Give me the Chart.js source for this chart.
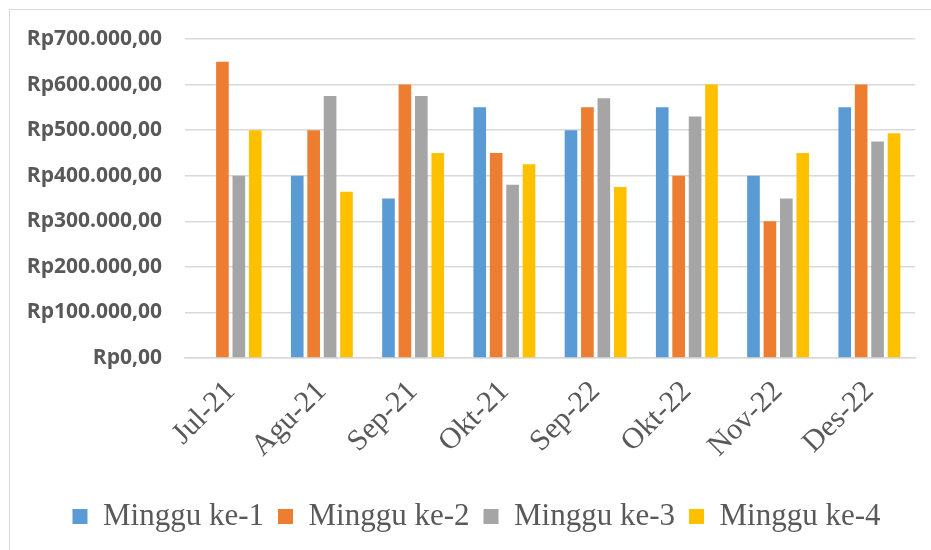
<!DOCTYPE html>
<html>
<head>
<meta charset="utf-8">
<script src="https://cdn.jsdelivr.net/npm/chart.js@4"></script>
<style>
  body { margin: 0; background: #fff; }
  .frame { position: absolute; left: 9px; top: 9px; width: 940px; height: 560px; border: 1px solid #d9d9d9; }
  canvas { position: absolute; left: 0; top: 0; }
</style>
</head>
<body>
<div class="frame"></div>
<canvas id="chart" width="931" height="550"></canvas>
<script>
const categories = ['Jul-21', 'Agu-21', 'Sep-21', 'Okt-21', 'Sep-22', 'Okt-22', 'Nov-22', 'Des-22'];
const minggu1 = [null, 400000, 350000, 550000, 500000, 550000, 400000, 550000];
const minggu2 = [650000, 500000, 600000, 450000, 550000, 400000, 300000, 600000];
const minggu3 = [400000, 575000, 575000, 380000, 570000, 530000, 350000, 475000];
const minggu4 = [500000, 365000, 450000, 425000, 375000, 600000, 450000, 493000];
const yTickLabels = ['Rp0,00', 'Rp100.000,00', 'Rp200.000,00', 'Rp300.000,00',
  'Rp400.000,00', 'Rp500.000,00', 'Rp600.000,00', 'Rp700.000,00'];

// nudge the legend to the right, the original one is not centred on the canvas
const legendShift = {
  id: 'legendShift',
  afterLayout(chart) {
    chart.legend.left += 14;
    chart.legend.right += 14;
  }
};

const ctx = document.getElementById('chart').getContext('2d');

new Chart(ctx, {
  type: 'bar',
  data: {
    labels: categories,
    datasets: [
      { label: 'Minggu ke-1', data: minggu1, backgroundColor: '#5b9bd5' },
      { label: 'Minggu ke-2', data: minggu2, backgroundColor: '#ed7d31' },
      { label: 'Minggu ke-3', data: minggu3, backgroundColor: '#a5a5a5' },
      { label: 'Minggu ke-4', data: minggu4, backgroundColor: '#ffc000' }
    ]
  },
  plugins: [legendShift],
  options: {
    responsive: false,
    animation: false,
    datasets: {
      bar: { categoryPercentage: 0.72, barPercentage: 0.77 }
    },
    layout: { padding: { left: 10, right: 16, top: 39, bottom: 8 } },
    scales: {
      x: {
        grid: { display: false },
        border: { color: '#d9d9d9', width: 1.5 },
        ticks: {
          color: '#595959',
          font: { family: 'Liberation Serif', size: 30 },
          minRotation: 45,
          maxRotation: 45,
          padding: 8
        },
        afterFit: (scale) => { scale.height = 129; }
      },
      y: {
        min: 0,
        max: 700000,
        border: { display: false },
        grid: { color: '#d9d9d9', lineWidth: 1.5, drawTicks: false },
        ticks: {
          stepSize: 100000,
          padding: 23,
          color: '#595959',
          font: { family: 'Open Sans', size: 21, weight: 'bold' },
          callback: (value, index) => yTickLabels[index]
        },
        afterFit: (scale) => { scale.width = 175; }
      }
    },
    plugins: {
      legend: {
        position: 'bottom',
        labels: {
          color: '#595959',
          font: { family: 'Liberation Serif', size: 31 },
          boxWidth: 15,
          boxHeight: 15,
          padding: 14
        }
      },
      tooltip: { enabled: false }
    }
  }
});
</script>
</body>
</html>
